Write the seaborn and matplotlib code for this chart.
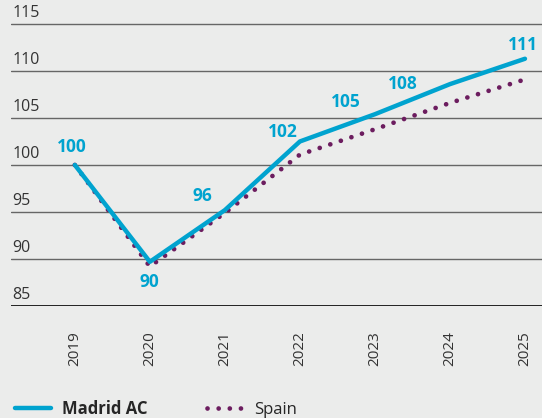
import matplotlib
matplotlib.use("Agg")
import matplotlib.pyplot as plt
import matplotlib.transforms as mtransforms
from matplotlib.lines import Line2D
import seaborn as sns
import pandas as pd

# data (index, 2019 = 100)
years = [2019, 2020, 2021, 2022, 2023, 2024, 2025]
madrid = [100, 89.7, 95.2, 102.5, 105.4, 108.6, 111.3]
spain = [100, 89.2, 94.9, 101.1, 103.8, 106.6, 109.1]
madrid_labels = ["100", "90", "96", "102", "105", "108", "111"]
y_ticks = [85, 90, 95, 100, 105, 110, 115]

blue = "#00a3cf"
purple = "#6c1d5f"
bg = "#ebeceb"

sns.set_style("white", {"axes.facecolor": bg, "figure.facecolor": bg})
plt.rcParams["font.family"] = ["Open Sans", "DejaVu Sans"]

df = pd.DataFrame({"year": years, "Madrid AC": madrid, "Spain": spain})

fig = plt.figure(figsize=(5.42, 4.18), dpi=100)
ax = fig.add_axes([0.02, 0.268, 0.98, 0.732])

sns.lineplot(data=df, x="year", y="Spain", ax=ax, color=purple, lw=3.4,
             dashes=False, zorder=3)
ax.lines[-1].set_dashes((0.01, 2.35))
ax.lines[-1].set_dash_capstyle("round")
sns.lineplot(data=df, x="year", y="Madrid AC", ax=ax, color=blue, lw=3.2, zorder=4)

# value labels for Madrid
offsets = [(-2, 13), (0, -14.4), (-16, 10), (-12, 6.8), (-21, 8.6), (-34, 0), (-1.4, 9.8)]
for x, y, lab, (dx, dy) in zip(years, madrid, madrid_labels, offsets):
    ax.annotate(lab, (x, y), xytext=(dx, dy), textcoords="offset points",
                ha="center", va="center", color=blue, fontsize=12.5,
                fontweight="bold", zorder=5)

ax.set_xlim(2018.147, 2025.227)
ax.set_ylim(85, 117.55)

# horizontal grid lines, black baseline at 85
for t in y_ticks:
    ax.axhline(t, color="black" if t == 85 else "#666666",
               lw=1.2 if t == 85 else 1.0, zorder=1)
    ax.text(0.003, t + 0.35, str(t), transform=mtransforms.blended_transform_factory(ax.transAxes, ax.transData),
            ha="left", va="bottom", fontsize=11.5, color="#333333")

ax.set_yticks([])
ax.set_xticks(years)
ax.set_xticklabels([str(y) for y in years], rotation=90, fontsize=11, color="#333333")
ax.tick_params(axis="x", length=0, pad=18)
ax.set_xlabel("")
ax.set_ylabel("")
for s in ax.spines.values():
    s.set_visible(False)

handles = [
    Line2D([], [], color=blue, lw=3.2),
    Line2D([], [], color=purple, lw=3.4, dashes=(0.01, 2.35), dash_capstyle="round"),
]
leg = fig.legend(handles, ["Madrid AC", "Spain"], loc="lower left",
                 bbox_to_anchor=(0.0, -0.035), ncol=2, frameon=False,
                 fontsize=12, handlelength=2.15, columnspacing=3.6, handletextpad=0.65)
leg.get_texts()[0].set_fontweight("bold")

fig.savefig("out.png", dpi=100, facecolor=bg)
